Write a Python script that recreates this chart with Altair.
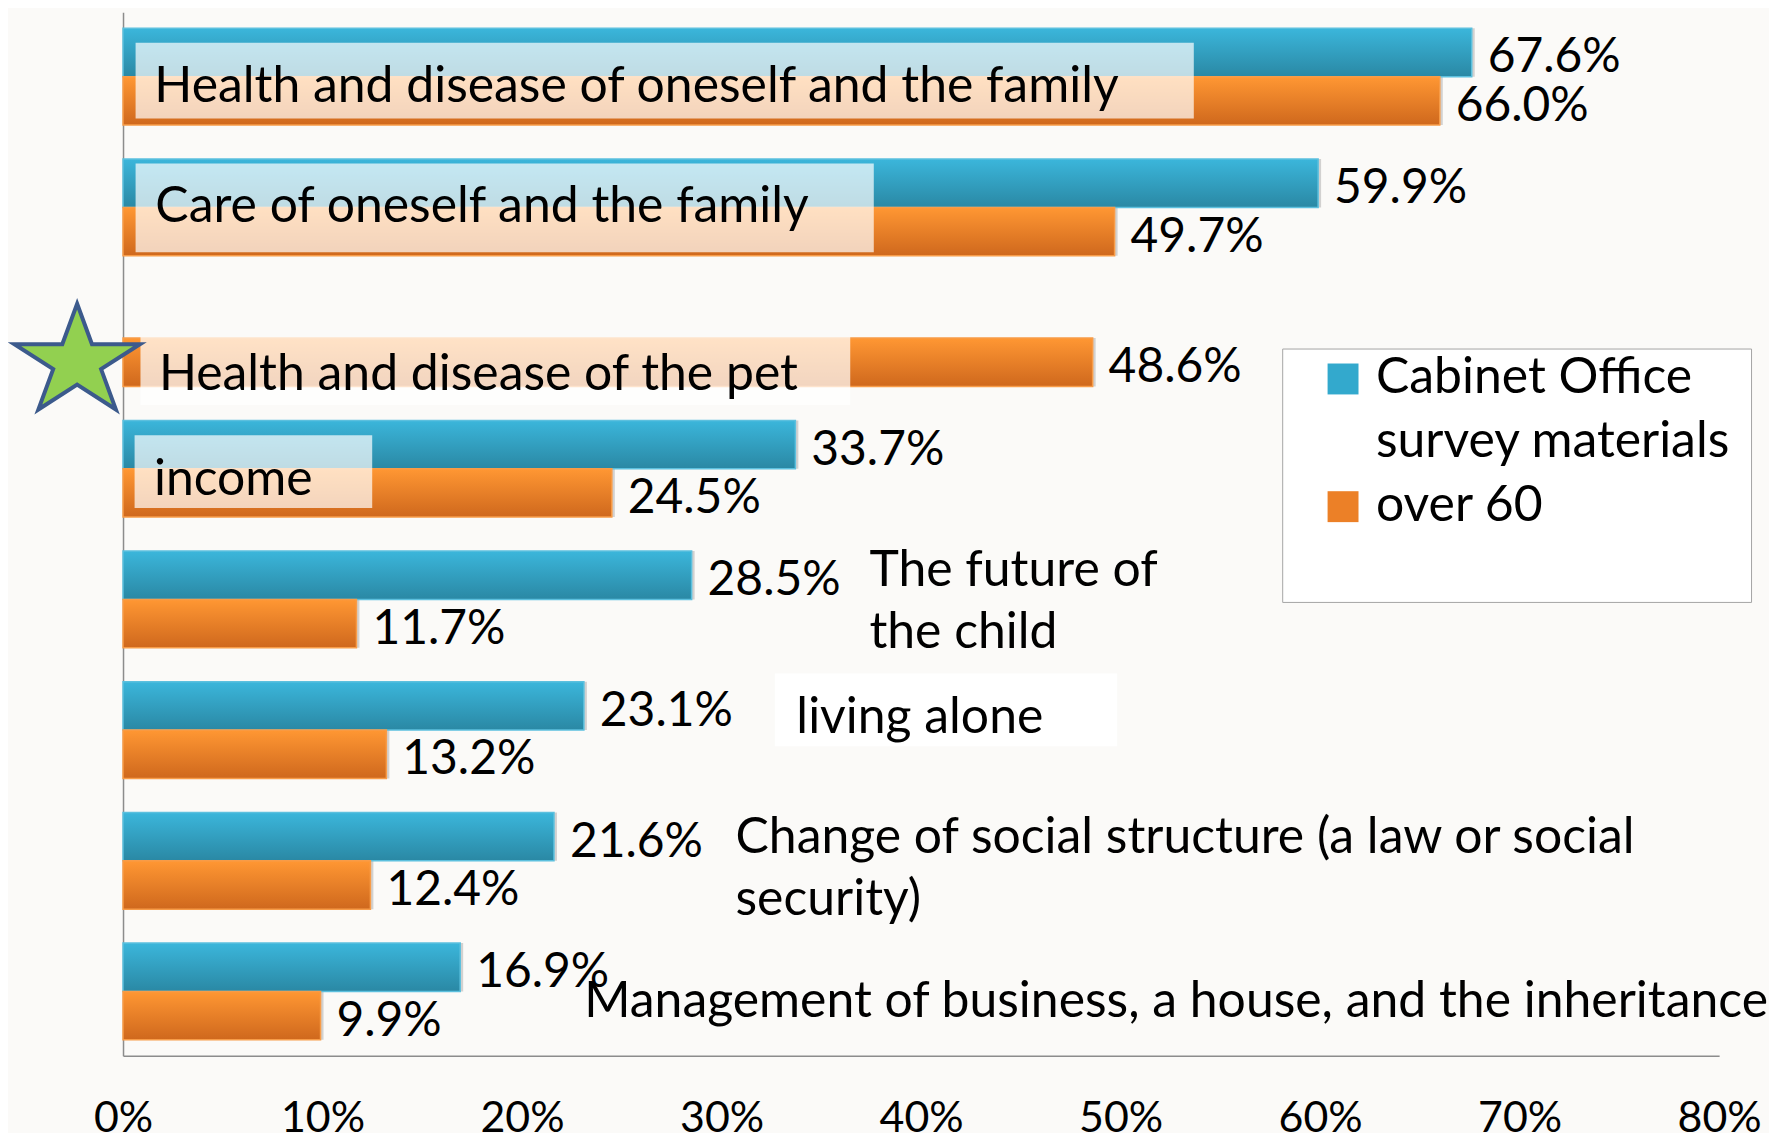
import altair as alt
import pandas as pd

# ---------------- data ----------------
categories = [
    "Health and disease of oneself and the family",
    "Care of oneself and the family",
    "Health and disease of the pet",
    "income",
    "The future of the child",
    "living alone",
    "Change of social structure (a law or social security)",
    "Management of business, a house, and the inheritance",
]
label_texts = [
    "Health and disease of oneself and the family",
    "Care of oneself and the family",
    "Health and disease of the pet",
    "income",
    "The future of\nthe child",
    "living alone",
    "Change of social structure (a law or social\nsecurity)",
    "Management of business, a house, and the inheritance",
]
series = ["Cabinet Office survey materials", "over 60"]
cabinet_office = [67.6, 59.9, None, 33.7, 28.5, 23.1, 21.6, 16.9]
over_60 = [66.0, 49.7, 48.6, 24.5, 11.7, 13.2, 12.4, 9.9]
x_ticks = [0, 10, 20, 30, 40, 50, 60, 70, 80]
highlight = "Health and disease of the pet"

rows = []
for i, cat in enumerate(categories):
    for s, vals in zip(series, [cabinet_office, over_60]):
        v = vals[i]
        if v is not None:
            rows.append({"category": cat, "series": s, "value": v, "label": f"{v:.1f}%"})
df = pd.DataFrame(rows)

# ---------------- layout (annotation placement, not data) ----------------
text_layout = [
    (0, 1.57, 25), (1, 1.62, 15), (2, 1.8, 52.5), (3, 1.55, 26),
    (4, 37.41, -13), (5, 33.75, 3), (6, 30.7, -8), (7, 23.12, 26),
]
box_layout = [
    (0, 0.63, 53.67, 4, 76, 0.7),
    (1, 0.63, 37.63, 0.5, 89, 0.7),
    (2, 0.875, 36.45, 33, 68, 0.72),
    (3, 0.58, 12.49, 2.8, 73, 0.7),
    (5, 32.67, 49.83, -20.2, 73, 1.0),
]

FONT = "Lato"
BG = "#fbfaf8"
AXIS_GREY = "#8c8c8c"

xscale = alt.Scale(domain=[0, 80], nice=False, zero=True)
xaxis = alt.Axis(values=x_ticks, labelExpr="datum.value + '%'", title=None, ticks=False,
                 tickSize=0, grid=False, labelPadding=42, labelFont=FONT, labelFontSize=43,
                 labelColor="#000000", domainColor=AXIS_GREY, domainWidth=1.5,
                 labelFlush=False, labelOverlap=False)
yscale = alt.Scale(domain=categories, paddingInner=0.26, paddingOuter=0.1225)
yaxis = alt.Axis(labels=False, ticks=False, title=None, grid=False,
                 domainColor=AXIS_GREY, domainWidth=1.5)


def X(field):
    return alt.X(f"{field}:Q", scale=xscale, axis=xaxis)


Y = alt.Y("category:N", scale=yscale, axis=yaxis)
YOFF = alt.YOffset("series:N", scale=alt.Scale(domain=series))

legend_symbol = "M-1,-1.935H1V0.065H-1Z"

shadow = alt.Chart(df).mark_bar(fill="#000000", fillOpacity=0.16, xOffset=3, yOffset=5).encode(
    x=X("value"), y=Y, yOffset=YOFF)

solid = alt.Chart(df).mark_bar().encode(
    x=X("value"), y=Y, yOffset=YOFF,
    color=alt.Color("series:N", scale=alt.Scale(domain=series, range=["#33a9cd", "#ec8027"]),
                    legend=alt.Legend(
                        orient="none", legendX=1162, legendY=337, title=" ",
                        titleOrient="bottom", titleFontSize=40, titlePadding=11,
                        fillColor="#ffffff", strokeColor="#a5a5a5", padding=20,
                        symbolType=legend_symbol, symbolSize=961, symbolOffset=16,
                        symbolStrokeWidth=0, labelOffset=8, rowPadding=14,
                        labelFont=FONT, labelFontSize=50, labelColor="#000000",
                        labelBaseline="alphabetic", labelLimit=800,
                        labelExpr="datum.label == 'Cabinet Office survey materials' ? ['Cabinet Office', 'survey materials'] : datum.label",
                    )))

grad_specs = [
    (series[0], ["#3bb6db", "#2a88a4"], "#5cc0de"),
    (series[1], ["#ff9733", "#cf681d"], "#f89c48"),
]
grad_layers = []
for s, (c0, c1), stroke in grad_specs:
    g = alt.LinearGradient(gradient="linear", x1=0, y1=0, x2=0, y2=1,
                           stops=[alt.GradientStop(offset=0, color=c0),
                                  alt.GradientStop(offset=1, color=c1)])
    grad_layers.append(
        alt.Chart(df).transform_filter(alt.datum.series == s)
        .mark_bar(fill=g, stroke=stroke, strokeWidth=1.5)
        .encode(x=X("value"), y=Y, yOffset=YOFF))

box_layers = []
for idx, x0, x1, shift, h, op in box_layout:
    bdf = pd.DataFrame([{"category": categories[idx], "value": x0, "value_end": x1}])
    box_layers.append(
        alt.Chart(bdf).mark_bar(fill="#ffffff", opacity=op, height=h, yOffset=shift)
        .encode(x=X("value"), x2="value_end:Q", y=Y))

text_layers = []
for idx, x0, shift in text_layout:
    tdf = pd.DataFrame([{"category": categories[idx], "value": x0, "text": label_texts[idx]}])
    text_layers.append(
        alt.Chart(tdf).mark_text(align="left", baseline="alphabetic", dy=shift, font=FONT,
                                 fontSize=50, lineBreak="\n", lineHeight=62, color="#000000")
        .encode(x=X("value"), y=Y, text="text:N"))

values_text = alt.Chart(df).mark_text(align="left", baseline="alphabetic", dx=16, dy=20,
                                      font=FONT, fontSize=48, color="#000000").encode(
    x=X("value"), y=Y, yOffset=YOFF, text="label:N")

star_path = ("M0,-0.93L0.236,-0.287L1,-0.287L0.381,0.11L0.617,0.752L0,0.355"
             "L-0.617,0.752L-0.381,0.11L-1,-0.287L-0.236,-0.287Z")
sdf = pd.DataFrame([{"category": highlight, "series": series[1], "value": 0}])
star = alt.Chart(sdf).mark_point(shape=star_path, size=15876, filled=True, fill="#92d050",
                                 stroke="#3c5a8c", strokeWidth=4, opacity=1,
                                 xOffset=-46, yOffset=3).encode(
    x=X("value"), y=Y, yOffset=YOFF)

chart = alt.layer(shadow, solid, *grad_layers, *box_layers, *text_layers, values_text, star).properties(
    width=1600, height=1046, background=BG,
    padding={"left": 115.3, "top": 3, "right": 50, "bottom": 76},
    autosize=alt.AutoSizeParams(type="none"),
).configure(
    style={"guide-label": {"lineHeight": 64}},
).configure_view(stroke="transparent")

chart.save("out.html", embed_options={"renderer": "svg", "actions": False})
